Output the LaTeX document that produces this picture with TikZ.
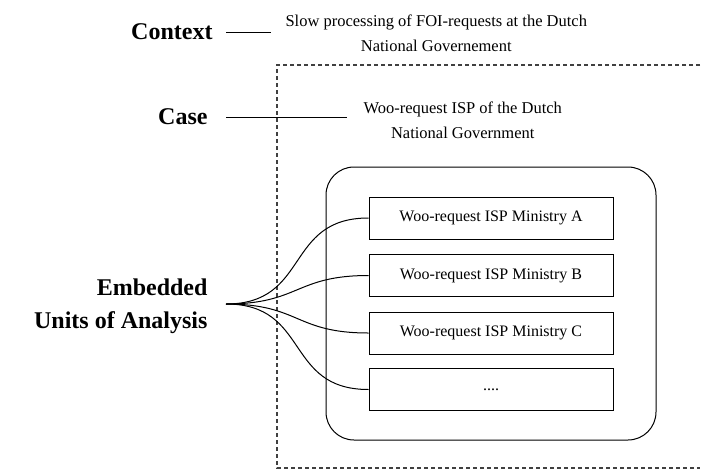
\documentclass[tikz,border=0pt]{standalone}
\usepackage{fontspec}
\setmainfont{Liberation Serif}
\usepackage{tikz}
\usetikzlibrary{positioning,calc}
\tikzstyle{lbl}=[%
      font=\fontsize{24}{33}\selectfont\bfseries, inner sep=0pt, align=right
]
\tikzstyle{txt}=[%
      font=\fontsize{16.5}{25}\selectfont, inner sep=0pt, align=center
]
\tikzstyle{unitbox}=[%
      rectangle, draw=black, line width=1pt, fill=white,
      minimum width=244pt, minimum height=42pt, inner sep=0pt, font=\fontsize{16}{18}\selectfont
]
\tikzstyle{bound}=[%
      draw=black!75, line width=1.2pt, dash pattern=on 4pt off 3pt
]

\begin{document}
\begin{tikzpicture}[x=1pt, y=-1pt, line width=1pt]
    \useasboundingbox (0,0) rectangle (704,472);

    \node[lbl, anchor=east] (ctx)    at (213,32)  {Context};
    \node[txt, anchor=west] (ctxtxt) at (285,33)  {Slow processing of FOI-requests at the Dutch\\National Governement};
    \node[lbl, anchor=east] (case)   at (208,117) {Case};
    \node[txt, anchor=west] (casetxt) at (363,120) {Woo-request ISP of the Dutch\\National Government};
    \node[lbl, anchor=east] (emb)    at (208,306) {Embedded\\Units of Analysis};
    \coordinate (fork) at (226,304);

    \draw[bound] (700,65) -- (277,65) -- (277,468) -- (700,468);

    \node[draw, rounded corners=28pt, minimum width=330pt, minimum height=273pt] (unit) at (491,303.5) {};
    \node[unitbox] (a) at (491,218)   {Woo-request ISP Ministry A};
    \node[unitbox] (b) at (491,275.5) {Woo-request ISP Ministry B};
    \node[unitbox] (c) at (491,333)   {Woo-request ISP Ministry C};
    \node[unitbox] (d) at (491,389.5) {....};

    \draw ([xshift=13pt]ctx.east) -- ([xshift=-14pt]ctxtxt.west |- ctx.east);
    \draw ([xshift=18pt]case.east) -- ([xshift=-16pt]casetxt.west |- case.east);
    \path[draw] (fork) edge[out=0, in=180, looseness=1.3] (a.west)
                (fork) edge[out=0, in=180, looseness=1.3] (b.west)
                (fork) edge[out=0, in=180, looseness=1.3] (c.west)
                (fork) edge[out=0, in=180, looseness=1.3] (d.west);
\end{tikzpicture}
\end{document}
